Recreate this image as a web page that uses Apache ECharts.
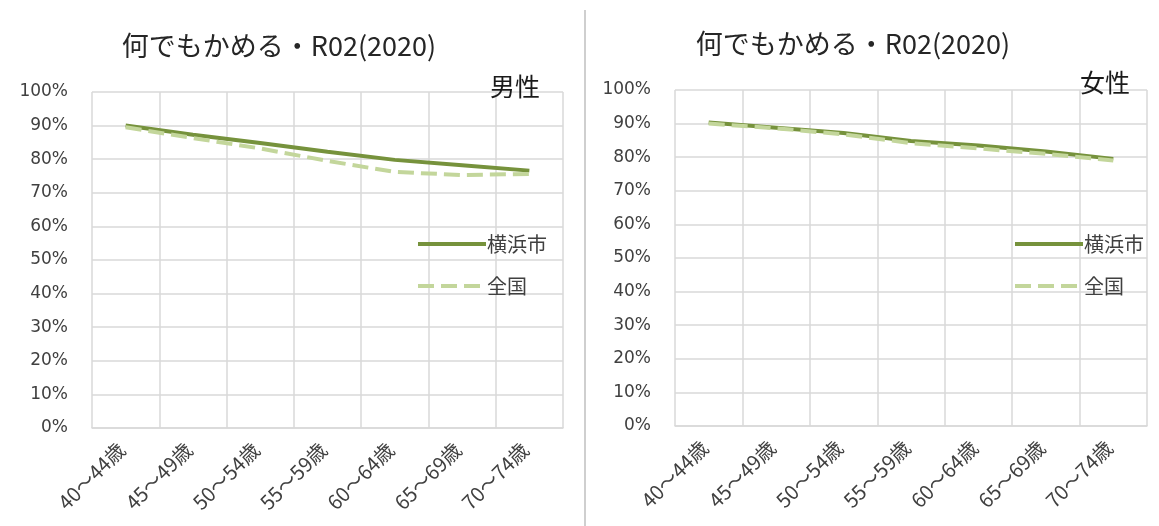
<!DOCTYPE html>
<html><head><meta charset="utf-8">
<script src="https://cdn.jsdelivr.net/npm/echarts@6/dist/echarts.min.js"></script>
<style>html,body{margin:0;padding:0;background:#fff;}#c{width:1159px;height:526px;}</style>
</head><body><div id="c"></div>
<script>
const categories = ['40～44歳','45～49歳','50～54歳','55～59歳','60～64歳','65～69歳','70～74歳'];
const yTicks = [0,10,20,30,40,50,60,70,80,90,100];
const titleText = '何でもかめる・R02(2020)';
const maleYokohama = [90.0, 87.3, 84.8, 82.2, 79.8, 78.2, 76.6];
const maleNational = [89.5, 86.3, 83.2, 79.5, 76.2, 75.3, 75.6];
const femaleYokohama = [90.3, 88.8, 87.2, 84.8, 83.5, 81.7, 79.5];
const femaleNational = [90.0, 88.6, 86.8, 84.2, 82.6, 81.0, 79.0];
const seriesNames = ['横浜市','全国'];
const panelLabels = ['男性','女性'];

const FONT = '"Noto Sans CJK JP", "Noto Sans", sans-serif';
const NUMFONT = '"DejaVu Sans", "Noto Sans CJK JP", sans-serif';
const gridColor = '#d9d9d9';
const solidColor = '#76923c';
const dashColor = '#c3d69b';

const grids = [
  {left: 92, right: 596, top: 92, bottom: 98},
  {left: 675, right: 12, top: 90, bottom: 100}
];
function xAxis(i){return {type:'category', gridIndex:i, data:categories, boundaryGap:true,
  axisLine:{show:true, lineStyle:{color:gridColor, width:1.5}}, axisTick:{show:false},
  splitLine:{show:true, lineStyle:{color:gridColor, width:1.5}},
  axisLabel:{rotate:45, color:'#404040', fontSize:20, fontFamily:FONT, margin:14, interval:0, padding:[0,6,0,0]}};}
function yAxis(i){return {type:'value', gridIndex:i, min:yTicks[0], max:yTicks[yTicks.length-1], interval:10,
  axisLine:{show:false}, axisTick:{show:false},
  splitLine:{show:true, lineStyle:{color:gridColor, width:1.5}},
  axisLabel:{formatter:v=>v+'%', color:'#404040', fontSize:17, fontFamily:NUMFONT, margin:24}};}
function ser(name, data, i, dashed){return {name, type:'line', xAxisIndex:i, yAxisIndex:i, data,
  symbol:'none', showSymbol:false, silent:true, z: dashed?3:2,
  lineStyle:{color: dashed?dashColor:solidColor, width:4, type: dashed?[16,7]:'solid'},
  itemStyle:{color: dashed?dashColor:solidColor}};}
function legend(left, top){return {left, top, orient:'vertical', itemWidth:68, itemHeight:14, itemGap:22,
  data:seriesNames, itemStyle:{opacity:0}, lineStyle:{width:4},
  textStyle:{color:'#404040', fontSize:20, fontFamily:FONT, padding:[0,0,0,-4]}, selectedMode:false};}

const chart = echarts.init(document.getElementById('c'), null, {renderer:'canvas'});
chart.setOption({
  backgroundColor:'#ffffff',
  animation:false,
  title:[
    {text:titleText, left:274, top:27, textAlign:'center', textStyle:{fontSize:27, fontWeight:'normal', color:'#262626', fontFamily:FONT}},
    {text:titleText, left:848, top:25, textAlign:'center', textStyle:{fontSize:27, fontWeight:'normal', color:'#262626', fontFamily:FONT}},
    {text:panelLabels[0], left:485, top:69, textStyle:{fontSize:25, fontWeight:'normal', color:'#1a1a1a', fontFamily:FONT}},
    {text:panelLabels[1], left:1075, top:65, textStyle:{fontSize:25, fontWeight:'normal', color:'#1a1a1a', fontFamily:FONT}}
  ],
  grid: grids,
  xAxis:[xAxis(0), xAxis(1)],
  yAxis:[yAxis(0), yAxis(1)],
  legend:[legend(411, 229), legend(1008, 229)],
  series:[
    ser(seriesNames[0], maleYokohama, 0, false),
    ser(seriesNames[1], maleNational, 0, true),
    ser(seriesNames[0], femaleYokohama, 1, false),
    ser(seriesNames[1], femaleNational, 1, true)
  ],
  graphic:[{type:'line', shape:{x1:585, y1:10, x2:585, y2:526}, style:{stroke:'#cfcfcf', lineWidth:2}}]
});
</script></body></html>
